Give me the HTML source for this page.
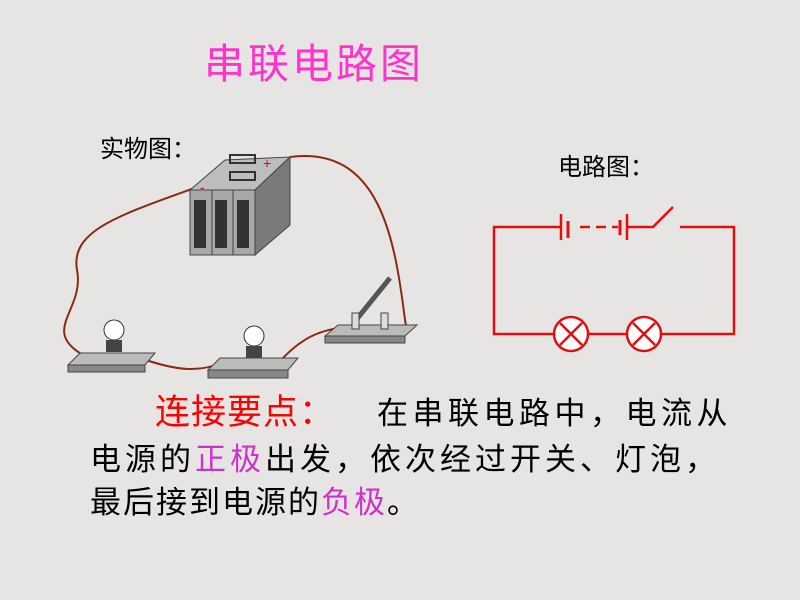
<!DOCTYPE html>
<html><head><meta charset="utf-8"><style>
html,body{margin:0;padding:0}
body{width:800px;height:600px;overflow:hidden;background:#e7e5e3;position:relative;font-family:"Liberation Sans","WenQuanYi Zen Hei","Noto Sans CJK SC",sans-serif}
.t{position:absolute;white-space:nowrap;line-height:1}
</style></head><body>
<div class="t" style="left:204px;top:44px;font-size:41px;color:#ff33cc;letter-spacing:3px;font-family:'Liberation Sans','Noto Sans CJK SC',sans-serif">串联电路图</div>
<div class="t" style="left:100px;top:138px;font-size:24px;color:#000">实物图：</div>
<div class="t" style="left:558px;top:156px;font-size:24px;color:#000">电路图：</div>

<svg width="800" height="600" style="position:absolute;left:0;top:0">
<path d="M290,157 C380,145 395,240 405,320 C410,345 400,330 395,328" fill="none" stroke="#8b2a14" stroke-width="2"/>
<path d="M200,186 C120,215 70,230 77,270 C85,310 40,330 83,355" fill="none" stroke="#8b2a14" stroke-width="2"/>
<path d="M140,358 C180,372 200,372 225,362" fill="none" stroke="#8b2a14" stroke-width="2"/>
<path d="M283,358 C310,330 330,330 345,327" fill="none" stroke="#8b2a14" stroke-width="2"/>
<polygon points="190,190 225,160 290,157 255,190" fill="#bdbdbd" stroke="#444"/>
<polygon points="255,190 290,157 290,225 255,255" fill="#7a7a7a" stroke="#444"/>
<rect x="190" y="190" width="65" height="65" fill="#a8a8a8" stroke="#444"/>
<line x1="212" y1="190" x2="212" y2="255" stroke="#444"/>
<line x1="233" y1="190" x2="233" y2="255" stroke="#444"/>
<g fill="#333"><rect x="194" y="200" width="12" height="48"/><rect x="215" y="200" width="12" height="48"/><rect x="237" y="200" width="12" height="48"/></g>
<rect x="230" y="155" width="25" height="8" fill="none" stroke="#333" stroke-width="2"/>
<rect x="230" y="172" width="25" height="8" fill="none" stroke="#333" stroke-width="2"/>
<text x="263" y="168" font-size="14" fill="#e00">+</text>
<text x="200" y="192" font-size="14" fill="#e00">-</text>
<polygon points="68,365 80,353 155,353 145,365" fill="#bbb" stroke="#444"/><rect x="68" y="365" width="77" height="7" fill="#888" stroke="#444"/>
<circle cx="114" cy="330" r="10" fill="#fff" stroke="#333"/><rect x="106" y="340" width="16" height="12" fill="#444"/>
<polygon points="208,370 220,358 298,358 288,370" fill="#bbb" stroke="#444"/><rect x="208" y="370" width="80" height="8" fill="#888" stroke="#444"/>
<circle cx="254" cy="336" r="10" fill="#fff" stroke="#333"/><rect x="246" y="346" width="16" height="12" fill="#444"/>
<polygon points="325,336 338,325 417,325 405,336" fill="#bbb" stroke="#444"/><rect x="325" y="336" width="80" height="7" fill="#888" stroke="#444"/>
<line x1="356" y1="320" x2="390" y2="278" stroke="#555" stroke-width="5"/>
<rect x="352" y="313" width="7" height="16" fill="#ddd" stroke="#444"/><rect x="381" y="313" width="7" height="16" fill="#ddd" stroke="#444"/>
<g stroke="#e01010" stroke-width="2.5" fill="none">
<polyline points="560,227 494,227 494,334 554,334"/>
<line x1="588" y1="334" x2="627" y2="334"/>
<polyline points="661,334 734,334 734,227 680,227"/>
<line x1="561" y1="214" x2="561" y2="240"/>
<line x1="568" y1="221" x2="568" y2="238" stroke-width="3"/>
<line x1="580" y1="227" x2="590" y2="227"/><line x1="596" y1="227" x2="606" y2="227"/><line x1="612" y1="227" x2="618" y2="227"/>
<line x1="620" y1="220" x2="620" y2="235" stroke-width="3"/>
<line x1="627" y1="214" x2="627" y2="240"/>
<polyline points="627,227 653,227 673,207"/>
<circle cx="571" cy="334" r="17" fill="#fff"/><line x1="560" y1="323" x2="582" y2="345"/><line x1="582" y1="323" x2="560" y2="345"/>
<circle cx="644" cy="334" r="17" fill="#fff"/><line x1="633" y1="323" x2="655" y2="345"/><line x1="655" y1="323" x2="633" y2="345"/>
</g>
</svg>

<div class="t" style="left:155px;top:395px;font-size:35px;color:#ff0000;letter-spacing:1px">连接要点：</div>
<div class="t" style="left:377px;top:398px;font-size:31px;color:#000;letter-spacing:4.5px">在串联电路中，电流从</div>
<div class="t" style="left:90px;top:444px;font-size:31px;color:#000;letter-spacing:4px">电源的<span style="color:#cc33cc">正极</span>出发，依次经过开关、灯泡，</div>
<div class="t" style="left:90px;top:487px;font-size:31px;color:#000;letter-spacing:2px">最后接到电源的<span style="color:#cc33cc">负极</span>。</div>
</body></html>
